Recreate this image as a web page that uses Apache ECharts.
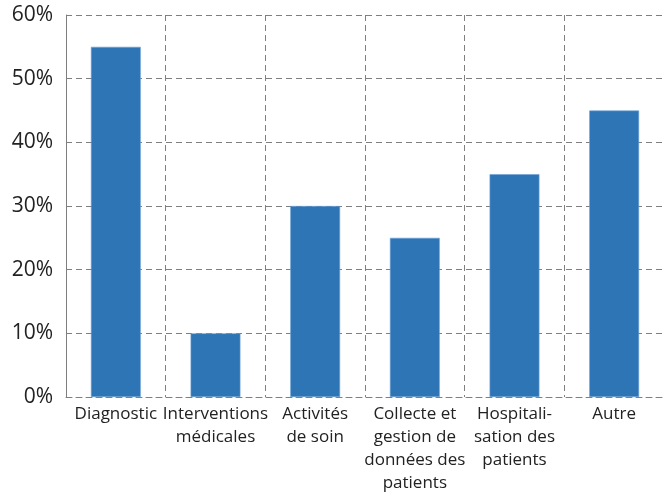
<!DOCTYPE html>
<html>
<head>
<meta charset="utf-8">
<script src="https://cdn.jsdelivr.net/npm/echarts@6/dist/echarts.min.js"></script>
<style>
html,body{margin:0;padding:0;background:#fff;}
#chart{width:664px;height:495px;}
</style>
</head>
<body>
<div id="chart"></div>
<script>
// Categories (line breaks as set in the axis labels)
const categories = [
  'Diagnostic',
  'Interventions\nmédicales',
  'Activités\nde soin',
  'Collecte et\ngestion de\ndonnées des\npatients',
  'Hospitali-\nsation des\npatients',
  'Autre'
];
// Share of responses, in percent
const shares = [55, 10, 30, 25, 35, 45];
// Y axis range and step, in percent
const yMin = 0, yMax = 60, yStep = 10;

const gridDash = { color: '#7f7f7f', type: [6, 4], width: 1 };
const font = '"Open Sans", "Noto Sans", sans-serif';

const chart = echarts.init(document.getElementById('chart'), null, { renderer: 'canvas' });
chart.setOption({
  animation: false,
  grid: { left: 66, top: 15, width: 600, height: 383, containLabel: false },
  xAxis: {
    type: 'category',
    data: categories,
    boundaryGap: true,
    axisLine: { show: true, lineStyle: gridDash },
    axisTick: { show: false },
    splitLine: { show: true, lineStyle: gridDash },
    axisLabel: {
      interval: 0,
      margin: 6,
      color: '#222',
      fontFamily: font,
      fontSize: 17,
      lineHeight: 23,
      align: 'center'
    }
  },
  yAxis: {
    type: 'value',
    min: yMin,
    max: yMax,
    interval: yStep,
    axisLine: { show: true, lineStyle: gridDash },
    axisTick: { show: false },
    splitLine: { show: true, lineStyle: gridDash },
    axisLabel: {
      margin: 13,
      color: '#222',
      fontFamily: font,
      fontSize: 21,
      formatter: v => v + '%'
    }
  },
  series: [{
    type: 'bar',
    data: shares,
    barWidth: '50%',
    itemStyle: { color: '#2e75b6', borderColor: '#6fa3d6', borderWidth: 0.6 }
  }]
});
</script>
</body>
</html>
